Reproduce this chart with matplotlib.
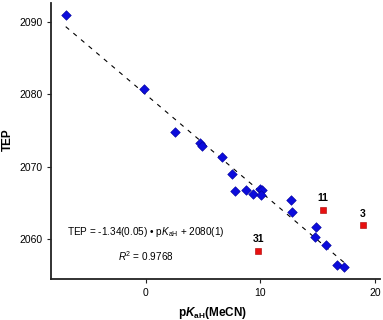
import matplotlib
matplotlib.use("Agg")
import matplotlib.pyplot as plt
import numpy as np

plt.rcParams['font.family'] = ['Liberation Sans', 'DejaVu Sans']
plt.rcParams['mathtext.fontset'] = 'custom'
plt.rcParams['mathtext.rm'] = 'Liberation Sans'
plt.rcParams['mathtext.it'] = 'Liberation Sans:italic'
plt.rcParams['mathtext.bf'] = 'Liberation Sans:bold'
plt.rcParams['mathtext.bfit'] = 'Liberation Sans:bold:italic'

# fitted compounds (blue)
pka_fit = [-6.97, -0.12, 2.55, 4.73, 4.90, 6.68, 7.58, 7.79, 8.77, 9.33,
           9.97, 10.14, 10.05, 12.67, 12.76, 14.85, 14.79, 15.72, 16.70, 17.30]
tep_fit = [2091.0, 2080.8, 2074.85, 2073.25, 2072.9, 2071.4, 2069.0, 2066.6,
           2066.75, 2066.3, 2067.0, 2066.75, 2066.15, 2065.35, 2063.75, 2061.75,
           2060.3, 2059.25, 2056.4, 2056.1]

# outliers (red)
out_labels = ['31', '11', '3']
pka_out = [9.82, 15.49, 18.97]
tep_out = [2058.4, 2064.1, 2061.95]

slope, intercept = -1.34, 2080.0

fig = plt.figure(figsize=(3.83, 3.2), dpi=100)
ax = fig.add_axes([0.133, 0.127, 0.859, 0.864])

xs = np.array([min(pka_fit), max(pka_fit)])
ax.plot(xs, slope * xs + intercept, color='black', lw=0.8,
        dashes=(4, 5), zorder=1)
ax.scatter(pka_fit, tep_fit, marker='D', s=24, color='#0c0cdc',
           edgecolors='#00009a', linewidths=0.4, zorder=3)
ax.scatter(pka_out, tep_out, marker='s', s=18, color='#e81010',
           edgecolors='#a80000', linewidths=0.4, zorder=3)
for lab, x, y in zip(out_labels, pka_out, tep_out):
    ax.text(x, y + 0.9, lab, ha='center', va='bottom', fontsize=7.5,
            fontweight='bold')

ax.text(0.0, 2061.05, r'TEP = -1.34(0.05) • p$\mathit{K}_{\mathrm{aH}}$ + 2080(1)',
        ha='center', va='center', fontsize=7.2)
ax.text(0.0, 2057.7, r'$\mathit{R}^2$ = 0.9768', ha='center', va='center',
        fontsize=7.2)

ax.set_xlim(-8.26, 20.45)
ax.set_ylim(2054.46, 2092.62)
ax.set_xticks([0, 10, 20])
ax.set_yticks([2060, 2070, 2080, 2090])

for side in ['top', 'right']:
    ax.spines[side].set_visible(False)
for side in ['left', 'bottom']:
    ax.spines[side].set_linewidth(1.3)
    ax.spines[side].set_color('#222222')
ax.tick_params(labelsize=7.5, length=3, width=0.8, color='#222222', pad=3)

ax.set_xlabel(r'p$\mathbfit{K}_{\mathbf{aH}}$(MeCN)', fontsize=8.5,
              fontweight='bold')
ax.xaxis.set_label_coords(0.492, -0.121)
ax.xaxis.label.set_va('center')
ax.set_ylabel('TEP', fontsize=8.5, fontweight='bold')
ax.yaxis.set_label_coords(-0.131, 0.504)
ax.yaxis.label.set_va('center')

fig.savefig('out.png', dpi=100)
